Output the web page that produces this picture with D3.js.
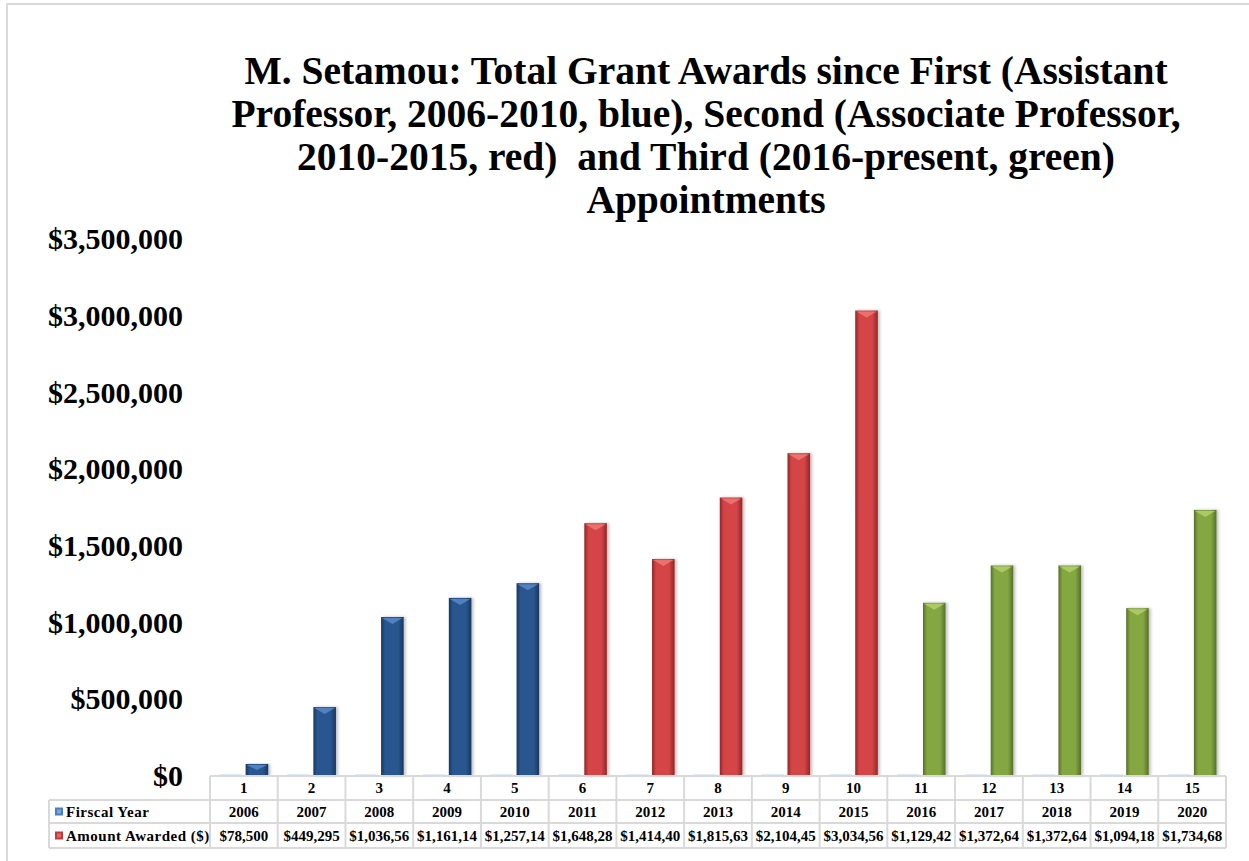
<!DOCTYPE html>
<html>
<head>
<meta charset="utf-8">
<script src="https://cdn.jsdelivr.net/npm/d3@7"></script>
<style>
  body { margin: 0; background: #fff; }
  svg { display: block; font-family: "Liberation Serif", "Times New Roman", serif; }
  .title text { white-space: pre; }
</style>
</head>
<body>
<svg width="1249" height="861"></svg>
<script>
// data
var categories = [1, 2, 3, 4, 5, 6, 7, 8, 9, 10, 11, 12, 13, 14, 15];
var fiscalYears = [2006, 2007, 2008, 2009, 2010, 2011, 2012, 2013, 2014, 2015, 2016, 2017, 2018, 2019, 2020];
var amounts = [78500, 449295, 1036560, 1161140, 1257140, 1648280, 1414400, 1815630, 2104450,
               3034560, 1129420, 1372640, 1372640, 1094180, 1734680];
var yTicks = [0, 500000, 1000000, 1500000, 2000000, 2500000, 3000000, 3500000];
var titleLines = [
  "M. Setamou: Total Grant Awards since First (Assistant",
  "Professor, 2006-2010, blue), Second (Associate Professor,",
  "2010-2015, red)  and Third (2016-present, green)",
  "Appointments"
];
var seriesNames = ["Firscal Year", "Amount Awarded ($)"];

var svg = d3.select("svg"),
    width = +svg.attr("width"),
    height = +svg.attr("height");

// chart frame
svg.append("rect")
    .attr("x", 7).attr("y", 4)
    .attr("width", 1400).attr("height", 1000)
    .attr("fill", "#fff")
    .attr("stroke", "#d9d9d9")
    .attr("stroke-width", 2);

// gradients for the bevelled bars
var palettes = {
  blue:  { dark: "#183760", mid: "#2a5790", top: "#5b8ccc" },
  red:   { dark: "#932628", mid: "#d44446", top: "#f07a78" },
  green: { dark: "#56702a", mid: "#85a742", top: "#b4d36e" }
};
var defs = svg.append("defs");
Object.keys(palettes).forEach(function(k) {
  var g = defs.append("linearGradient").attr("id", "grad-" + k)
      .attr("x1", "0").attr("x2", "1").attr("y1", "0").attr("y2", "0");
  g.append("stop").attr("offset", "0%").attr("stop-color", palettes[k].dark);
  g.append("stop").attr("offset", "18%").attr("stop-color", palettes[k].mid);
  g.append("stop").attr("offset", "75%").attr("stop-color", palettes[k].mid);
  g.append("stop").attr("offset", "100%").attr("stop-color", palettes[k].dark);
});
var shadow = defs.append("filter").attr("id", "shadow")
    .attr("x", "-30%").attr("y", "-5%").attr("width", "160%").attr("height", "110%");
shadow.append("feDropShadow").attr("dx", 2).attr("dy", 0).attr("stdDeviation", 1.5)
    .attr("flood-color", "#000").attr("flood-opacity", 0.25);

function paletteFor(year) {
  if (year <= 2010) return "blue";
  if (year <= 2015) return "red";
  return "green";
}

// title
svg.append("g").attr("class", "title")
  .selectAll("text")
  .data(titleLines)
  .enter().append("text")
    .attr("x", 706)
    .attr("y", function(d, i) { return 84 + i * 43; })
    .attr("text-anchor", "middle")
    .attr("font-size", "39.5px")
    .attr("font-weight", "bold")
    .attr("fill", "#000")
    .text(function(d) { return d; });

// scales
var plotLeft = 210, plotRight = 1226, plotBottom = 776;
var x0 = d3.scaleBand().domain(categories).range([plotLeft, plotRight]).paddingInner(0).paddingOuter(0);
var x1 = d3.scaleBand().domain(seriesNames).range([0, x0.bandwidth()]).paddingInner(0.135).paddingOuter(0.365);
var y = d3.scaleLinear().domain([0, 3500000]).range([plotBottom, plotBottom - 7 * 76.7]);

// y axis labels (no axis line)
var yAxis = d3.axisLeft(y).tickValues(yTicks).tickSize(0).tickPadding(0)
    .tickFormat(function(d) { return "$" + d3.format(",")(d); });
var yg = svg.append("g").attr("transform", "translate(183,0)").call(yAxis);
yg.select(".domain").remove();
yg.selectAll("text")
    .attr("font-family", "Liberation Serif, Times New Roman, serif")
    .attr("font-size", "30px")
    .attr("font-weight", "bold")
    .attr("fill", "#000");

// bars
var groups = svg.append("g").attr("class", "bars")
  .selectAll("g")
  .data(categories)
  .enter().append("g")
    .attr("transform", function(d) { return "translate(" + x0(d) + ",0)"; });

// fiscal year series (tiny against the dollar scale)
groups.append("rect")
    .attr("x", x1("Firscal Year"))
    .attr("width", x1.bandwidth())
    .attr("y", function(d, i) { return y(fiscalYears[i]) - 1; })
    .attr("height", function(d, i) { return y(0) - y(fiscalYears[i]) + 1; })
    .attr("fill", "#9dbde6");

// amount series
groups.append("rect")
    .attr("x", x1("Amount Awarded ($)"))
    .attr("width", x1.bandwidth())
    .attr("y", function(d, i) { return y(amounts[i]); })
    .attr("height", function(d, i) { return y(0) - y(amounts[i]); })
    .attr("fill", function(d, i) { return "url(#grad-" + paletteFor(fiscalYears[i]) + ")"; })
    .attr("filter", "url(#shadow)");

// bevel chevron on top of each bar
groups.append("path")
    .attr("d", function(d, i) {
      var bx = x1("Amount Awarded ($)"), bw = x1.bandwidth(), by = y(amounts[i]);
      var h = Math.min(7, (y(0) - by) / 2);
      return "M" + (bx + 1) + "," + (by + 1) + "L" + (bx + bw - 1) + "," + (by + 1) +
             "L" + (bx + bw / 2) + "," + (by + h) + "Z";
    })
    .attr("fill", function(d, i) { return palettes[paletteFor(fiscalYears[i])].top; })
    .attr("opacity", 0.8);

// data table under the axis
var rowTop = [776, 800, 823], rowH = [24, 23, 25];
var legendLeft = 49;
var table = svg.append("g").attr("class", "table");
var bw = x0.bandwidth();
var gridColor = "#d9d9d9";

// horizontal lines
table.append("line").attr("x1", plotLeft).attr("x2", plotRight).attr("y1", rowTop[0]).attr("y2", rowTop[0]);
[rowTop[1], rowTop[2], rowTop[2] + rowH[2]].forEach(function(yy) {
  table.append("line").attr("x1", legendLeft).attr("x2", plotRight).attr("y1", yy).attr("y2", yy);
});
// vertical lines
table.append("line").attr("x1", legendLeft).attr("x2", legendLeft).attr("y1", rowTop[1]).attr("y2", rowTop[2] + rowH[2]);
categories.concat([16]).forEach(function(c, i) {
  var xx = plotLeft + i * bw;
  table.append("line").attr("x1", xx).attr("x2", xx).attr("y1", rowTop[0]).attr("y2", rowTop[2] + rowH[2]);
});
table.selectAll("line").attr("stroke", gridColor).attr("stroke-width", 2);

function cellText(row, getText) {
  table.append("g").selectAll("text")
    .data(categories)
    .enter().append("text")
      .attr("x", function(d) { return x0(d) + bw / 2; })
      .attr("y", rowTop[row] + rowH[row] / 2 + 5)
      .attr("text-anchor", "middle")
      .attr("font-size", "15px")
      .attr("font-weight", "bold")
      .attr("fill", "#000")
      .text(getText);
}
cellText(0, function(d) { return d; });
cellText(1, function(d, i) { return fiscalYears[i]; });
// amounts are cut off by the narrow cells in the original
cellText(2, function(d, i) { return ("$" + d3.format(",")(amounts[i])).slice(0, 9); });

// legend keys in the table
seriesNames.forEach(function(name, i) {
  var r = i + 1;
  var cy = rowTop[r] + rowH[r] / 2;
  table.append("rect")
      .attr("x", 55).attr("y", cy - 4)
      .attr("width", 8).attr("height", 8)
      .attr("fill", i === 0 ? "#4a7ebf" : "#c0393b");
  table.append("rect")
      .attr("x", 57).attr("y", cy - 2)
      .attr("width", 4).attr("height", 4)
      .attr("fill", i === 0 ? "#7aa7dd" : "#e06666");
  table.append("text")
      .attr("x", 66)
      .attr("y", cy + 5)
      .attr("font-size", "15px")
      .attr("font-weight", "bold")
      .attr("letter-spacing", "0.5px")
      .attr("fill", "#000")
      .text(name);
});
</script>
</body>
</html>
